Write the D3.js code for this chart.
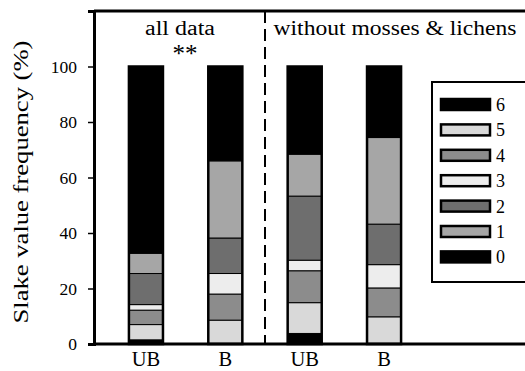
<!DOCTYPE html>
<html>
<head>
<meta charset="utf-8">
<script src="https://cdn.jsdelivr.net/npm/d3@7"></script>
<style>
  body { margin: 0; background: #fff; }
  svg text { font-family: "Liberation Serif", "Times New Roman", Times, serif; }
</style>
</head>
<body>
<svg width="525" height="371"></svg>
<script>
// bars, left to right
const categories = ["UB", "B", "UB", "B"];
const groupLabels = ["all data", "without mosses & lichens"];

// slake value classes, stacked bottom to top as drawn
const stackKeys = ["0", "5", "4", "3", "2", "1", "6"];
const s0 = [1.5, 0, 3.8, 0];
const s5 = [5.5, 8.6, 11.1, 9.8];
const s4 = [5.2, 9.4, 11.5, 10.4];
const s3 = [2.0, 7.4, 3.8, 8.4];
const s2 = [11.2, 12.8, 23.1, 14.6];
const s1 = [7.3, 27.8, 15.1, 31.2];
const s6 = [67.3, 34.0, 31.6, 25.6];

const legendKeys = ["6", "5", "4", "3", "2", "1", "0"];
const yTicks = [0, 20, 40, 60, 80, 100];

const colour = {
  "6": "#000", "5": "#d9d9d9", "4": "#8c8c8c", "3": "#ededed",
  "2": "#6e6e6e", "1": "#a6a6a6", "0": "#000"
};

const series = { "0": s0, "5": s5, "4": s4, "3": s3, "2": s2, "1": s1, "6": s6 };
const rows = categories.map((c, i) => {
  let r = { idx: i, cat: c };
  stackKeys.forEach(k => r[k] = series[k][i]);
  return r;
});

let svg = d3.select('svg');
const plotLeft = 94, plotRight = 525, plotTop = 11, plotBottom = 344;

let x = d3.scaleBand().domain(d3.range(categories.length))
  .range([plotLeft, 436]).paddingInner(0.571).paddingOuter(0.44);
let y = d3.scaleLinear().domain([0, 120]).range([plotBottom, plotTop]);

let stacked = d3.stack().keys(stackKeys)(rows);

// bars
let layer = svg.append('g').selectAll('g')
  .data(stacked).enter().append('g')
    .attr('fill', d => colour[d.key]);

layer.selectAll('rect')
  .data(d => d.filter(p => p[1] - p[0] > 0))
  .enter().append('rect')
    .attr('x', d => x(d.data.idx))
    .attr('width', x.bandwidth())
    .attr('y', d => y(d[1]))
    .attr('height', d => y(d[0]) - y(d[1]))
    .attr('stroke', '#000')
    .attr('stroke-width', 1);

// outer bar outline
svg.append('g').selectAll('rect')
  .data(rows).enter().append('rect')
    .attr('x', d => x(d.idx))
    .attr('width', x.bandwidth())
    .attr('y', y(100))
    .attr('height', y(0) - y(100))
    .attr('fill', 'none')
    .attr('stroke', '#000')
    .attr('stroke-width', 2.5);

// group divider
let midX = (x(1) + x.bandwidth() + x(2)) / 2;
svg.append('line')
  .attr('x1', midX).attr('x2', midX)
  .attr('y1', plotTop).attr('y2', plotBottom)
  .attr('stroke', '#000').attr('stroke-width', 2)
  .attr('stroke-dasharray', '12,6');

// frame lines
svg.append('line').attr('x1', plotLeft).attr('x2', plotRight).attr('y1', plotTop).attr('y2', plotTop)
  .attr('stroke', '#000').attr('stroke-width', 3);
svg.append('line').attr('x1', plotLeft).attr('x2', plotRight).attr('y1', plotBottom).attr('y2', plotBottom)
  .attr('stroke', '#000').attr('stroke-width', 3);

// y axis
let yAxis = svg.append('g')
  .attr('transform', 'translate(' + plotLeft + ',0)')
  .call(d3.axisLeft(y).tickValues(yTicks).tickSize(6).tickPadding(11));
yAxis.attr('font-family', null);
yAxis.select('.domain').attr('stroke-width', 3);
yAxis.selectAll('.tick line').attr('stroke-width', 1.5);
yAxis.selectAll('text').attr('font-size', 17.5).attr('fill', '#000');
yAxis.append('line').attr('x1', -6).attr('x2', 0).attr('y1', plotTop).attr('y2', plotTop)
  .attr('stroke', '#000').attr('stroke-width', 1.5);

svg.append('text')
  .attr('transform', 'translate(28,182) rotate(-90)')
  .attr('text-anchor', 'middle')
  .attr('font-size', 20)
  .attr('textLength', 283).attr('lengthAdjust', 'spacingAndGlyphs')
  .text('Slake value frequency (%)');

// x labels
svg.append('g').selectAll('text')
  .data(rows).enter().append('text')
    .attr('x', d => x(d.idx) + x.bandwidth() / 2)
    .attr('y', 366)
    .attr('text-anchor', 'middle')
    .attr('font-size', 20.5)
    .text(d => d.cat);

// group labels
svg.append('text').attr('x', 180).attr('y', 35).attr('text-anchor', 'middle')
  .attr('font-size', 20).attr('textLength', 70).attr('lengthAdjust', 'spacingAndGlyphs')
  .text(groupLabels[0]);
svg.append('text').attr('x', 185).attr('y', 62).attr('text-anchor', 'middle')
  .attr('font-size', 25).text('**');
svg.append('text').attr('x', 395).attr('y', 35).attr('text-anchor', 'middle')
  .attr('font-size', 20).attr('textLength', 243).attr('lengthAdjust', 'spacingAndGlyphs')
  .text(groupLabels[1]);

// legend
let legend = svg.append('g').attr('transform', 'translate(432,82)');
legend.append('rect')
  .attr('width', 100).attr('height', 200)
  .attr('fill', '#fff').attr('stroke', '#000').attr('stroke-width', 2);

let item = legend.selectAll('.item')
  .data(legendKeys).enter().append('g')
    .attr('class', 'item')
    .attr('transform', (d, i) => 'translate(9,' + (22.5 + i * 25.4) + ')');
item.append('rect')
  .attr('x', 0).attr('y', -5.5)
  .attr('width', 49).attr('height', 11)
  .attr('fill', d => colour[d])
  .attr('stroke', '#000').attr('stroke-width', 2.5);
item.append('text')
  .attr('x', 55).attr('y', 6.5)
  .attr('font-size', 18)
  .text(d => d);
</script>
</body>
</html>
